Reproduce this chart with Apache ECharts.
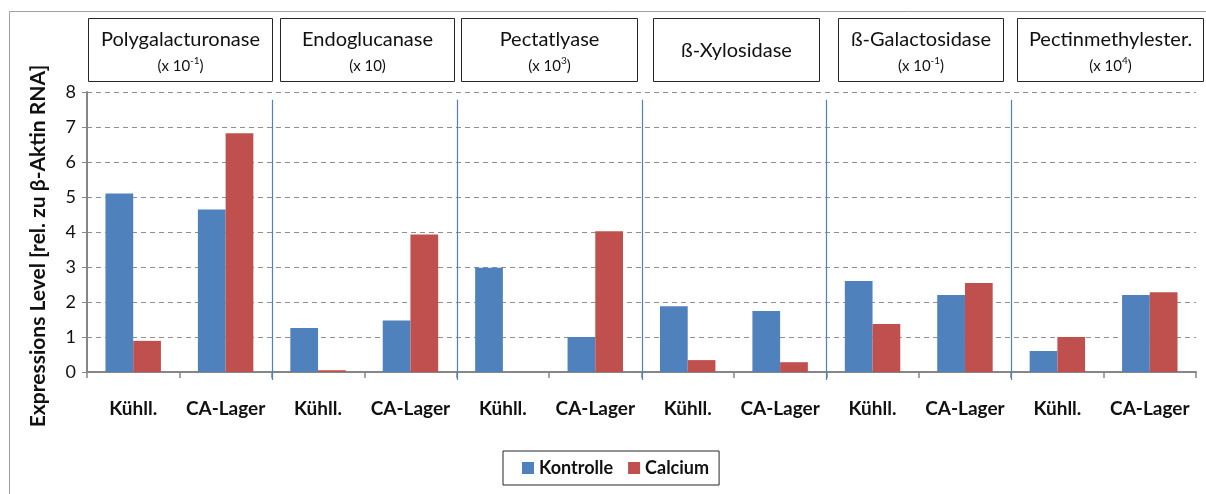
<!DOCTYPE html>
<html>
<head>
<meta charset="utf-8">
<script src="https://cdn.jsdelivr.net/npm/echarts@6/dist/echarts.min.js"></script>
<style>
  html, body { margin: 0; padding: 0; background: #fff; }
  #chart { width: 1206px; height: 494px; }
</style>
</head>
<body>
<div id="chart"></div>
<script>
// Enzymes, their scaling exponent and the two storage conditions per enzyme
const enzymes = ['Polygalacturonase', 'Endoglucanase', 'Pectatlyase', 'ß-Xylosidase', 'ß-Galactosidase', 'Pectinmethylester.'];
const exponents = ['-1', '', '3', null, '-1', '4'];   // '' = x 10, null = no factor
const conditions = ['Kühll.', 'CA-Lager'];

// Expression level per category (enzyme × condition, in order)
const kontrolle = [5.1, 4.64, 1.26, 1.47, 2.98, 1.0, 1.88, 1.74, 2.6, 2.2, 0.6, 2.2];
const calcium   = [0.89, 6.82, 0.05, 3.93, 0, 4.02, 0.34, 0.28, 1.37, 2.54, 1.0, 2.28];

const yTicks = { min: 0, max: 8, interval: 1 };

// Category keys are unique per position; the drawn label is the condition name
const categories = [];
enzymes.forEach((e, i) => conditions.forEach(c => categories.push(i + '|' + c)));

// Boundaries between enzyme groups (index of first category of the next group)
const separators = [];
for (let g = 1; g < enzymes.length; g++) separators.push([g * conditions.length, 0]);

const FONT = 'Lato, "Noto Sans", sans-serif';

// Header boxes above each enzyme group
const headerBoxes = [
  [88, 184], [280, 174], [461, 176], [653, 166], [838, 165], [1017, 186]
];
const headerGraphics = enzymes.map((name, i) => {
  const [x, w] = headerBoxes[i];
  const exp = exponents[i];
  const children = [{
    type: 'rect',
    shape: { x: 0, y: 0, width: w, height: 63 },
    style: { fill: '#fff', stroke: '#262626', lineWidth: 1 }
  }];
  if (exp !== null) {
    children.push({
      type: 'text', x: w / 2, y: 21,
      style: { text: name, font: '20px ' + FONT, fill: '#111', align: 'center', verticalAlign: 'middle' }
    });
    const factorText = exp ? '{n|(x 10}{s|' + exp.replace('-', '‑') + '}{n|)}' : '{n|(x 10)}';
    children.push({
      type: 'text', x: w / 2, y: 46,
      style: {
        text: factorText, align: 'center', verticalAlign: 'middle',
        rich: {
          n: { fontFamily: FONT, fontSize: 15, fill: '#111', lineHeight: 18, verticalAlign: 'bottom' },
          s: { fontFamily: FONT, fontSize: 10, fill: '#111', lineHeight: 18, verticalAlign: 'top' }
        }
      }
    });
  } else {
    children.push({
      type: 'text', x: w / 2, y: 32,
      style: { text: name, font: '20px ' + FONT, fill: '#111', align: 'center', verticalAlign: 'middle' }
    });
  }
  return { type: 'group', x: x + 0.5, y: 18.5, children };
});

const chart = echarts.init(document.getElementById('chart'));
chart.setOption({
  animation: false,
  backgroundColor: '#fff',
  grid: { left: 87, right: 10, top: 92, bottom: 122, containLabel: false },
  legend: {
    data: ['Kontrolle', 'Calcium'],
    left: 503, top: 451,
    padding: [8, 10, 8, 19],
    itemWidth: 12, itemHeight: 12, itemGap: 15,
    borderColor: '#262626', borderWidth: 1,
    icon: 'rect',
    textStyle: { fontFamily: FONT, fontWeight: 'bold', fontSize: 18, color: '#111' }
  },
  xAxis: {
    type: 'category',
    data: categories,
    axisLine: { lineStyle: { color: '#868686', width: 2 } },
    axisTick: { show: true, length: 6, alignWithLabel: false, lineStyle: { color: '#868686', width: 1.5 } },
    axisLabel: {
      interval: 0,
      margin: 27, fontFamily: FONT, fontWeight: 'bold', fontSize: 19, color: '#111',
      formatter: v => v.split('|')[1]
    }
  },
  yAxis: {
    type: 'value',
    min: yTicks.min, max: yTicks.max, interval: yTicks.interval,
    axisLine: { show: true, lineStyle: { color: '#868686', width: 2 } },
    axisTick: { show: true, length: 5, lineStyle: { color: '#868686' } },
    axisLabel: { margin: 11, fontFamily: FONT, fontSize: 18, color: '#111' },
    splitLine: { lineStyle: { color: '#8f8f8f', type: [5, 4], width: 1 } }
  },
  series: [
    {
      name: 'Kontrolle', type: 'bar', data: kontrolle,
      barGap: '0%', barCategoryGap: '40%',
      itemStyle: { color: '#4F81BD' }
    },
    {
      name: 'Calcium', type: 'bar', data: calcium,
      itemStyle: { color: '#C0504D' }
    },
    {
      // thin vertical dividers between enzyme groups
      type: 'custom', data: separators, encode: { x: 0, y: 1 }, clip: false, silent: true,
      renderItem: (params, api) => {
        const k = api.value(0);
        const a = api.coord([k - 1, 0]);
        const b = api.coord([k, 0]);
        const x = Math.round((a[0] + b[0]) / 2) + 0.5;
        const top = api.coord([k, 7.78])[1];
        const bottom = api.coord([k, -0.23])[1];
        return {
          type: 'line',
          shape: { x1: x, y1: top, x2: x, y2: bottom },
          style: { stroke: '#4F81BD', lineWidth: 1.2 }
        };
      },
      z: 5
    }
  ],
  graphic: [
    {
      type: 'rect', silent: true, z: -10,
      shape: { x: 9.5, y: 11.5, width: 1210, height: 500 },
      style: { fill: 'none', stroke: '#a0a0a0', lineWidth: 1 }
    },
    {
      type: 'text', x: 38, y: 246, rotation: Math.PI / 2,
      style: {
        text: 'Expressions Level [rel. zu β-Aktin RNA]',
        font: 'bold 21px ' + FONT, fill: '#111', align: 'center', verticalAlign: 'middle'
      }
    },
    ...headerGraphics
  ]
});
</script>
</body>
</html>
